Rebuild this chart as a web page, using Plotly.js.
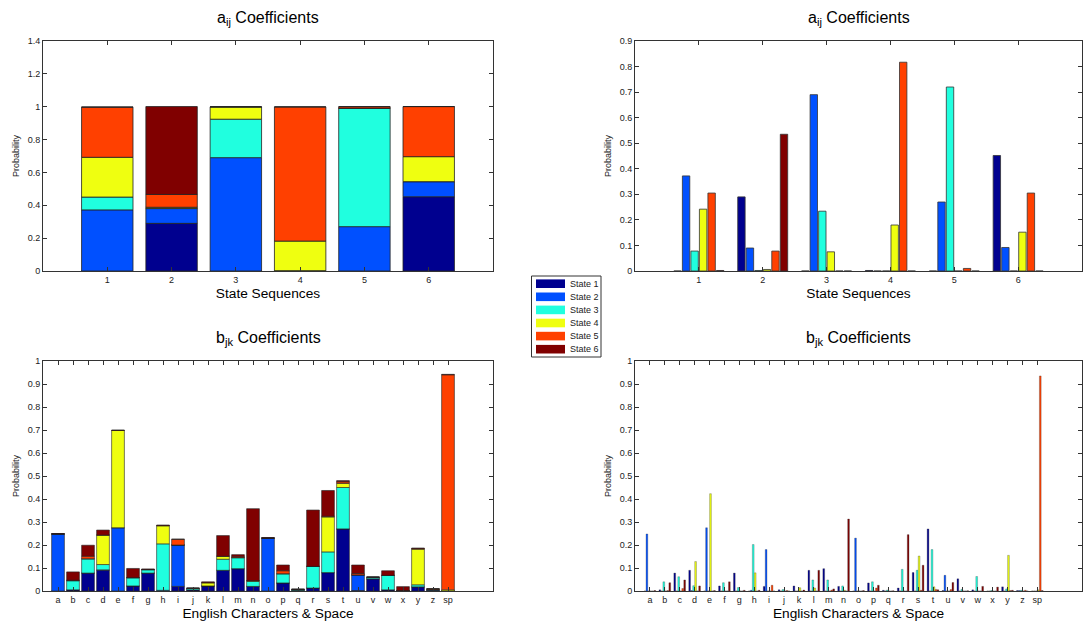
<!DOCTYPE html>
<html><head><meta charset="utf-8">
<script src="https://cdn.plot.ly/plotly-3.0.1.min.js"></script>
<style>html,body{margin:0;padding:0;background:#fff}#chart{width:1086px;height:624px}</style>
</head><body><div id="chart"></div>
<script>
const FONT = 'Liberation Sans, Arial, Helvetica, sans-serif';
const stateNames = ['State 1','State 2','State 3','State 4','State 5','State 6'];
const stateColors = ['#00008F','#0050FF','#20FFDF','#EFFF10','#FF4000','#800000'];

// a_ij: transition probabilities from sequence state (x) to each state
const seqLabels = ['1','2','3','4','5','6'];
const aState1 = [0, 0.29, 0, 0.002, 0, 0.452];
const aState2 = [0.372, 0.09, 0.69, 0, 0.27, 0.092];
const aState3 = [0.078, 0.002, 0.234, 0, 0.72, 0];
const aState4 = [0.242, 0.006, 0.075, 0.18, 0, 0.152];
const aState5 = [0.305, 0.078, 0, 0.817, 0.01, 0.305];
const aState6 = [0.002, 0.535, 0, 0, 0, 0];

// b_jk: emission probabilities per character
const letters = ['a','b','c','d','e','f','g','h','i','j','k','l','m','n','o','p','q','r','s','t','u','v','w','x','y','z','sp'];
const bState1 = [0,0.005,0.078,0.09,0,0.022,0.078,0,0.02,0.005,0.022,0.09,0.097,0.02,0,0.035,0.003,0.013,0.08,0.27,0.002,0.053,0.005,0,0.018,0.002,0];
const bState2 = [0.248,0,0,0.002,0.275,0,0,0.003,0.18,0,0,0,0,0,0.23,0,0,0,0,0,0.068,0,0,0,0,0.002,0];
const bState3 = [0,0.04,0.062,0.023,0,0.036,0.015,0.202,0,0.006,0,0.048,0.048,0.022,0,0.04,0.004,0.094,0.09,0.18,0,0.007,0.063,0.002,0.009,0.003,0];
const bState4 = [0,0,0,0.128,0.423,0,0,0.079,0,0,0.014,0.013,0,0.003,0,0,0,0,0.152,0.018,0,0,0,0,0.155,0,0.005];
const bState5 = [0,0.002,0.011,0,0,0,0,0,0.025,0.002,0,0,0.004,0,0,0.013,0,0,0.003,0.007,0.006,0,0,0,0.002,0.003,0.935];
const bState6 = [0.002,0.036,0.048,0.022,0.002,0.04,0.003,0.003,0,0,0.004,0.09,0.009,0.313,0.002,0.025,0.001,0.245,0.112,0.005,0.037,0.001,0.02,0.017,0.003,0,0.002];

const aSeries = [aState1,aState2,aState3,aState4,aState5,aState6];
const bSeries = [bState1,bState2,bState3,bState4,bState5,bState6];

const traces = [];
function addStacked(cats, series, xa, ya, lw, w){
  let base = cats.map(()=>0);
  series.forEach((vals,i)=>{
    traces.push({type:'bar', x:cats, y:vals, base:base.slice(), xaxis:xa, yaxis:ya, width:w,
      offsetgroup:'stk', name:stateNames[i], showlegend:false,
      marker:{color:stateColors[i], line:{color:'#222', width:lw}}, hoverinfo:'skip'});
    base = base.map((b,k)=>b+vals[k]);
  });
}
function addGrouped(cats, series, xa, ya, lw){
  series.forEach((vals,i)=>{
    traces.push({type:'bar', x:cats, y:vals, xaxis:xa, yaxis:ya,
      offsetgroup:'g'+i, name:stateNames[i], showlegend:false,
      marker:{color:stateColors[i], line:{color:'#333', width:lw}}, hoverinfo:'skip'});
  });
}
addStacked(seqLabels, aSeries, 'x', 'y', 0.8, 0.8);
addGrouped(seqLabels, aSeries, 'x2', 'y2', 0.8);
addStacked(letters, bSeries, 'x3', 'y3', 0.6, 0.85);
addGrouped(letters, bSeries, 'x4', 'y4', 0.3);

const W = 1086, H = 624;
const px = v => v / W, py = v => 1 - v / H;
const xL = [px(43), px(493)], xR = [px(635), px(1082)];
const yT = [py(271), py(41)], yB = [py(591), py(361)];

const ax = {showline:true, linecolor:'#333', linewidth:1, mirror:'ticks', ticks:'inside', ticklen:4,
  tickcolor:'#333', showgrid:false, zeroline:false, fixedrange:true,
  tickfont:{family:FONT, size:9, color:'#222'}};
const xt = t => ({text:t, font:{family:FONT, size:13.7, color:'#000'}, standoff:4});
const yt = {text:'Probability', font:{family:FONT, size:9, color:'#222'}, standoff:6};

const layout = {
  width:W, height:H, margin:{l:0,r:0,t:0,b:0}, paper_bgcolor:'#fff', plot_bgcolor:'#fff',
  barmode:'group', bargap:0.2, bargroupgap:0.13, showlegend:false,
  font:{family:FONT},
  xaxis: Object.assign({}, ax, {domain:xL, anchor:'y', type:'category', range:[-1,6], title:xt('State Sequences')}),
  yaxis: Object.assign({}, ax, {domain:yT, anchor:'x', range:[0,1.4], dtick:0.2, title:yt}),
  xaxis2: Object.assign({}, ax, {domain:xR, anchor:'y2', type:'category', range:[-1,6], title:xt('State Sequences')}),
  yaxis2: Object.assign({}, ax, {domain:yT, anchor:'x2', range:[0,0.9], dtick:0.1, title:yt}),
  xaxis3: Object.assign({}, ax, {domain:xL, anchor:'y3', type:'category', range:[-1,29], tickangle:0, title:xt('English Characters &amp; Space')}),
  yaxis3: Object.assign({}, ax, {domain:yB, anchor:'x3', range:[0,1], dtick:0.1, title:yt}),
  xaxis4: Object.assign({}, ax, {domain:xR, anchor:'y4', type:'category', range:[-1,29], tickangle:0, title:xt('English Characters &amp; Space')}),
  yaxis4: Object.assign({}, ax, {domain:yB, anchor:'x4', range:[0,1], dtick:0.1, title:yt}),
  annotations:[], shapes:[]
};
const titleFont = {family:FONT, size:16, color:'#000'};
[[xL, py(18), 'a<sub>ij</sub> Coefficients'], [xR, py(18), 'a<sub>ij</sub> Coefficients'],
 [xL, py(338), 'b<sub>jk</sub> Coefficients'], [xR, py(338), 'b<sub>jk</sub> Coefficients']].forEach(t=>{
  layout.annotations.push({xref:'paper', yref:'paper', x:(t[0][0]+t[0][1])/2, y:t[1], text:t[2],
    showarrow:false, xanchor:'center', yanchor:'middle', font:titleFont});
});
// custom legend box
layout.shapes.push({type:'rect', xref:'paper', yref:'paper', x0:px(531.5), x1:px(601), y0:py(357), y1:py(276),
  line:{color:'#333', width:1}, fillcolor:'#fff'});
stateNames.forEach((n,i)=>{
  const cy = 283.7 + i*13.1;
  layout.shapes.push({type:'rect', xref:'paper', yref:'paper', x0:px(536), x1:px(565), y0:py(cy+4.3), y1:py(cy-4.3),
    line:{width:0}, fillcolor:stateColors[i]});
  layout.annotations.push({xref:'paper', yref:'paper', x:px(568), y:py(cy), text:n, showarrow:false,
    xanchor:'left', yanchor:'middle', font:{family:FONT, size:9, color:'#222'}});
});

Plotly.newPlot('chart', traces, layout, {displayModeBar:false, staticPlot:true});
</script></body></html>
